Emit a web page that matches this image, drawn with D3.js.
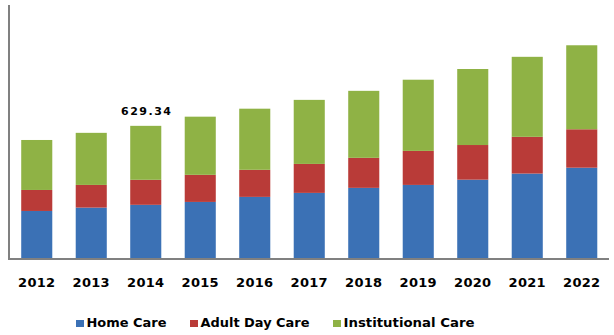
<!DOCTYPE html>
<html><head><meta charset="utf-8">
<script src="https://cdn.jsdelivr.net/npm/d3@7"></script>
<style>body{margin:0;background:#fff}svg{display:block}</style>
</head><body>
<svg id="c" width="614" height="335"></svg>
<script>
const years = ["2012","2013","2014","2015","2016","2017","2018","2019","2020","2021","2022"];
const homeCare = [224, 240, 253.2, 267, 291, 310, 334, 348, 373, 402, 430];
const adultDayCare = [100, 108, 119.2, 129, 129, 138, 143, 162, 165, 175, 183];
const institutionalCare = [238, 248, 256.94, 277, 291, 305, 319, 339, 362, 381, 400];
const seriesNames = ["Home Care", "Adult Day Care", "Institutional Care"];
const colors = ["#3b71b5", "#b93b38", "#8fb245"];
const labelYear = "2014";
const labelText = "629.34";

const svg = d3.select("#c");
const keys = ["home", "adult", "inst"];
const rows = years.map((y, i) => ({year: y, home: homeCare[i], adult: adultDayCare[i], inst: institutionalCare[i]}));
const stack = d3.stack().keys(keys)(rows);

const x = d3.scaleBand().domain(years).range([9.5, 609]).paddingInner(0.43).paddingOuter(0.215);
const y = d3.scaleLinear().domain([0, 1200]).range([258, 6]);

svg.append("g").selectAll("g").data(stack).join("g")
  .attr("fill", (d, i) => colors[i])
  .selectAll("rect").data(d => d).join("rect")
  .attr("x", d => x(d.data.year))
  .attr("width", x.bandwidth())
  .attr("y", d => y(d[1]))
  .attr("height", d => y(d[0]) - y(d[1]));

// axes
svg.append("line").attr("x1", 9).attr("x2", 9).attr("y1", 5).attr("y2", 260)
  .attr("stroke", "#808080").attr("stroke-width", 2);
const xa = svg.append("g").attr("transform", "translate(0,259)")
  .call(d3.axisBottom(x).tickSize(0).tickSizeOuter(0));
xa.select(".domain").attr("stroke", "#808080").attr("stroke-width", 2).attr("d", "M8,0H609");
xa.selectAll("text").attr("y", 28).attr("dy", 0)
  .attr("font-family", "DejaVu Sans, Verdana, sans-serif").attr("font-weight", "bold")
  .attr("font-size", 13).attr("fill", "#000").attr("letter-spacing", 0.3);

// data label
const li = years.indexOf(labelYear);
const tot = homeCare[li] + adultDayCare[li] + institutionalCare[li];
svg.append("text").attr("x", x(labelYear) + x.bandwidth() / 2 + 1).attr("y", y(tot) - 11)
  .attr("text-anchor", "middle").attr("font-family", "DejaVu Sans, Verdana, sans-serif")
  .attr("font-weight", "bold").attr("font-size", 11).attr("letter-spacing", 1.5)
  .attr("fill", "#000").text(labelText);

// legend
const legX = [76, 190, 333];
const legW = [80, 109, 131];
const lg = svg.append("g").selectAll("g").data(seriesNames).join("g")
  .attr("transform", (d, i) => `translate(${legX[i]},0)`);
lg.append("rect").attr("x", 0).attr("y", 320).attr("width", 8).attr("height", 7)
  .attr("fill", (d, i) => colors[i]);
lg.append("text").attr("x", 10.5).attr("y", 327)
  .attr("font-family", "DejaVu Sans, Verdana, sans-serif").attr("font-weight", "bold")
  .attr("font-size", 12).attr("fill", "#000")
  .attr("textLength", (d, i) => legW[i]).attr("lengthAdjust", "spacingAndGlyphs")
  .text(d => d);
</script>
</body></html>
